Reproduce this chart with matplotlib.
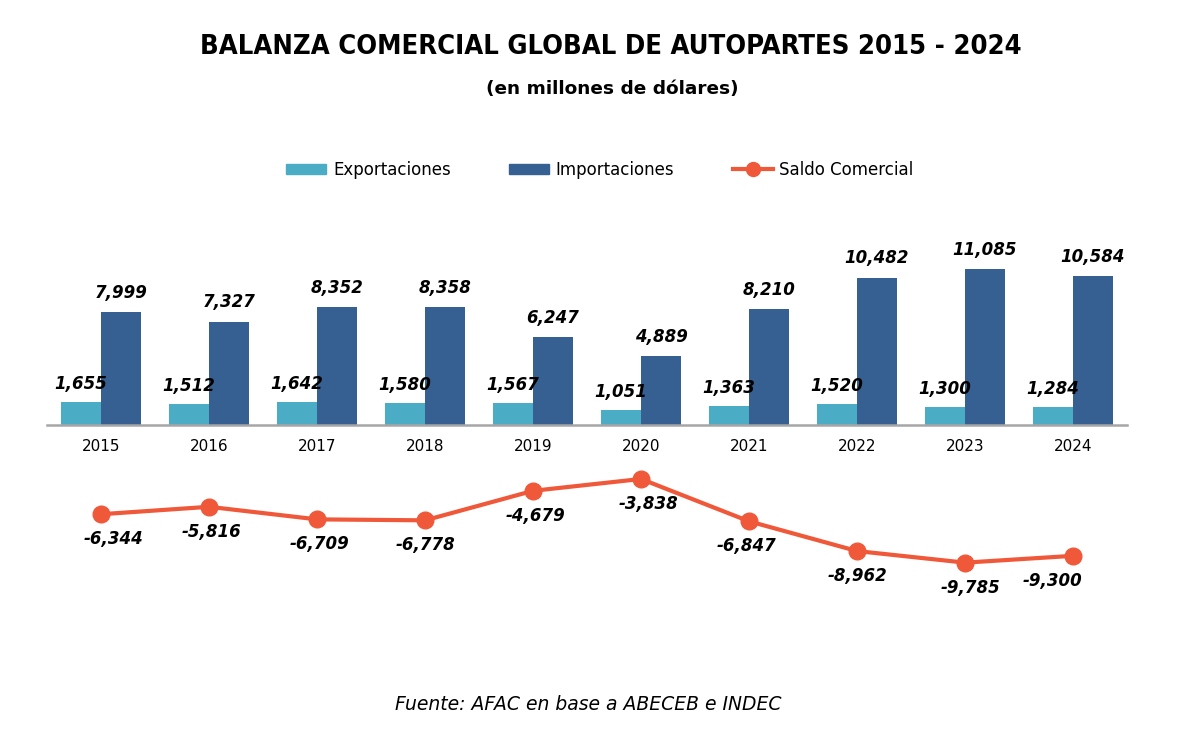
import matplotlib.pyplot as plt
import numpy as np
from matplotlib.patches import Patch
from matplotlib.lines import Line2D

years = ['2015', '2016', '2017', '2018', '2019', '2020', '2021', '2022', '2023', '2024']
exportaciones = [1655, 1512, 1642, 1580, 1567, 1051, 1363, 1520, 1300, 1284]
importaciones = [7999, 7327, 8352, 8358, 6247, 4889, 8210, 10482, 11085, 10584]
saldo = [-6344, -5816, -6709, -6778, -4679, -3838, -6847, -8962, -9785, -9300]

c_exp = '#4BACC6'
c_imp = '#366092'
c_line = '#F0583A'
font = 'DejaVu Sans'

def fmt(v):
    return '{:,}'.format(v)

fig = plt.figure(figsize=(12, 7.35), dpi=100)
ax = fig.add_axes([0.0392, 0.1565, 0.9, 0.5306])

x = np.arange(len(years))
w = 0.37
ax.bar(x - w / 2, exportaciones, w, color=c_exp, zorder=2)
ax.bar(x + w / 2, importaciones, w, color=c_imp, zorder=2)
ax.plot(x, saldo, color=c_line, lw=3, marker='o', markersize=12, zorder=4)

for i in range(len(years)):
    ax.annotate(fmt(exportaciones[i]), (x[i] - w / 2, exportaciones[i]), xytext=(0, 13),
                textcoords='offset points', ha='center', va='center', fontsize=12,
                fontweight='bold', style='italic', family=font, zorder=5)
    ax.annotate(fmt(importaciones[i]), (x[i] + w / 2, importaciones[i]), xytext=(0, 14),
                textcoords='offset points', ha='center', va='center', fontsize=12,
                fontweight='bold', style='italic', family=font, zorder=5)

# small nudges so the line labels sit like the original
dx = [9, 2, 2, 0, 2, 5, -2, 0, 4, -15]
for i in range(len(years)):
    ax.annotate(fmt(saldo[i]), (x[i], saldo[i]), xytext=(dx[i], -18),
                textcoords='offset points', ha='center', va='center', fontsize=12,
                fontweight='bold', style='italic', family=font, zorder=5)

ax.set_xlim(-0.5, 9.5)
ax.set_ylim(-13860, 13860)
ax.spines['bottom'].set_position(('data', 0))
ax.spines['bottom'].set_color('#A6A6A6')
ax.spines['bottom'].set_linewidth(1.8)
for s in ['top', 'left', 'right']:
    ax.spines[s].set_visible(False)
ax.set_yticks([])
ax.set_xticks(x)
ax.set_xticklabels(years, fontsize=11, family=font)
ax.tick_params(axis='x', length=0, pad=10)

fig.text(0.509, 0.936, 'BALANZA COMERCIAL GLOBAL DE AUTOPARTES 2015 - 2024', ha='center',
         va='center', fontsize=19.6, fontweight='bold', fontstretch='condensed', family=font)
fig.text(0.51, 0.879, '(en millones de dólares)', ha='center', va='center', fontsize=13.3,
         fontweight='bold', family=font)
fig.text(0.49, 0.041, 'Fuente: AFAC en base a ABECEB e INDEC', ha='center', va='center',
         fontsize=13.5, style='italic', family=font)

handles = [Patch(color=c_exp), Patch(color=c_imp),
           Line2D([0], [0], color=c_line, lw=3, marker='o', markersize=10)]
fig.legend(handles, ['Exportaciones', 'Importaciones', 'Saldo Comercial'], loc='center',
           bbox_to_anchor=(0.5, 0.769), ncol=3, frameon=False,
           handlelength=2.4, handleheight=0.6, columnspacing=3.5, handletextpad=0.4,
           prop={'family': font, 'size': 12})

fig.savefig('out.png', dpi=100)
